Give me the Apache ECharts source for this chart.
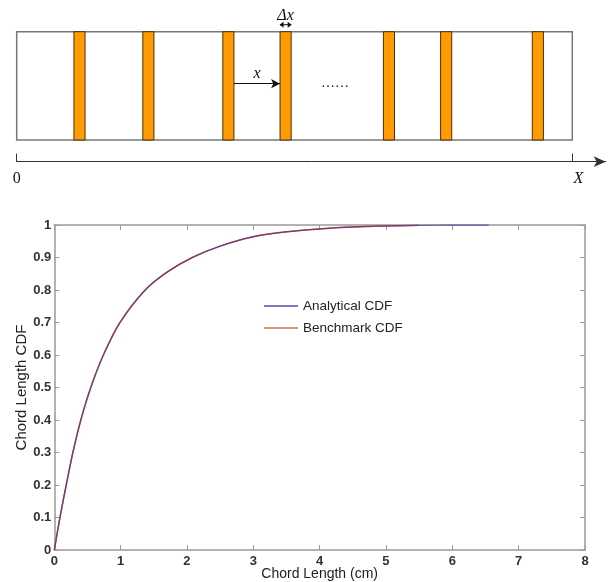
<!DOCTYPE html>
<html>
<head>
<meta charset="utf-8">
<script src="https://cdn.jsdelivr.net/npm/echarts@6/dist/echarts.min.js"></script>
<style>
  html, body { margin: 0; padding: 0; background: #fff; }
  #chart { width: 613px; height: 582px; }
</style>
</head>
<body>
<div id="chart"></div>
<script>
// Diagram: slab of length X (=100 units) with thin orange layers
const slabLength = 100
const layerStarts = [10.3, 22.7, 37.1, 47.4, 66.0, 76.3, 92.8]
const layerWidth = 2.0

// CDF curves: [chord length (cm), CDF]
const analyticalCdf = [
  [0, 0], [0.085, 0.1], [0.18, 0.2], [0.28, 0.3], [0.40, 0.4], [0.55, 0.5],
  [0.74, 0.6], [0.99, 0.7], [1.37, 0.8], [1.7, 0.855], [2.08, 0.9], [2.5, 0.935],
  [3, 0.964], [3.5, 0.979], [4, 0.988], [4.5, 0.994], [5, 0.997], [5.5, 0.999],
  [6, 1.0], [6.55, 1.0]
]
const benchmarkCdf = [
  [0, 0], [0.085, 0.1], [0.18, 0.2], [0.28, 0.3], [0.40, 0.4], [0.55, 0.5],
  [0.74, 0.6], [0.99, 0.7], [1.37, 0.8], [1.7, 0.855], [2.08, 0.9], [2.5, 0.935],
  [3, 0.964], [3.5, 0.979], [4, 0.988], [4.5, 0.994], [5, 0.997], [5.5, 0.999]
]

const sans = '"Liberation Sans", Arial, sans-serif'
const serif = '"Liberation Serif", "DejaVu Serif", serif'
const axisGray = '#9a9a9a'

const chart = echarts.init(document.getElementById('chart'))

// small filled triangle pointing left or right
const arrowHead = (x, y, dir, len, half) => ({
  type: 'polygon',
  shape: { points: [[x, y], [x - dir * len, y - half], [x - dir * len, y + half]] },
  style: { fill: '#111' }
})

const plotAxis = {
  axisLine: { onZero: false, lineStyle: { color: axisGray, width: 1.5 } },
  axisTick: { inside: true, length: 5, lineStyle: { color: axisGray } },
  splitLine: { show: false }
}

const lineIcon = 'path://M0,0 L34,0 L34,1.5 L0,1.5 Z'

const option = {
  animation: false,
  grid: [
    // 0: slab diagram
    { left: 16.7, top: 31.7, width: 555.6, height: 108.3, show: true, borderColor: '#777', borderWidth: 1.5, backgroundColor: '#fff', outerBoundsMode: 'none' },
    // 1: arrow axis under slab
    { left: 16.7, top: 160.7, width: 589, height: 1, outerBoundsMode: 'none' },
    // 2: CDF plot
    { left: 54.3, top: 225, width: 530.7, height: 325, outerBoundsMode: 'none' },
    // 3: strip above slab for the layer thickness mark
    { left: 16.7, top: 10, width: 555.6, height: 21, outerBoundsMode: 'none' }
  ],
  xAxis: [
    { gridIndex: 0, type: 'value', min: 0, max: slabLength, show: false },
    {
      gridIndex: 1, type: 'value', min: 0, max: slabLength * 589 / 555.6,
      position: 'bottom',
      splitLine: { show: false },
      axisLine: { lineStyle: { color: '#333', width: 1 }, symbol: ['none', 'arrow'], symbolSize: [8, 12] },
      axisTick: { inside: true, length: 8, lineStyle: { color: '#333' }, customValues: [0, slabLength] },
      axisLabel: {
        margin: 9,
        customValues: [0, slabLength],
        formatter: v => v === 0 ? '{n|0}' : '{i|X}',
        rich: {
          n: { fontFamily: serif, fontSize: 16, color: '#111' },
          i: { fontFamily: serif, fontStyle: 'italic', fontSize: 16, color: '#111', padding: [0, 0, 0, 12] }
        }
      }
    },
    {
      gridIndex: 2, type: 'value', min: 0, max: 8, interval: 1,
      name: 'Chord Length (cm)', nameLocation: 'middle', nameGap: 17, nameMoveOverlap: false,
      nameTextStyle: { fontFamily: sans, fontSize: 14, color: '#222' },
      ...plotAxis,
      axisLabel: { fontFamily: sans, fontSize: 13, color: '#333', margin: 5, fontWeight: 'bold' }
    },
    {
      gridIndex: 2, type: 'value', min: 0, max: 8, interval: 1, position: 'top',
      ...plotAxis,
      axisLabel: { show: false }
    },
    { gridIndex: 3, type: 'value', min: 0, max: slabLength, show: false }
  ],
  yAxis: [
    { gridIndex: 0, type: 'value', min: 0, max: 1, show: false },
    { gridIndex: 1, type: 'value', min: 0, max: 1, show: false },
    {
      gridIndex: 2, type: 'value', min: 0, max: 1, interval: 0.1,
      name: 'Chord Length CDF', nameLocation: 'middle', nameGap: 25, nameRotate: 90, nameMoveOverlap: false,
      nameTextStyle: { fontFamily: sans, fontSize: 15, color: '#222' },
      ...plotAxis,
      axisLabel: {
        fontFamily: sans, fontSize: 13, color: '#333', margin: 3, fontWeight: 'bold',
        formatter: v => +v.toFixed(1) + ''
      }
    },
    {
      gridIndex: 2, type: 'value', min: 0, max: 1, interval: 0.1, position: 'right',
      ...plotAxis,
      axisLabel: { show: false }
    },
    { gridIndex: 3, type: 'value', min: 0, max: 1, show: false }
  ],
  legend: {
    left: 259, top: 294, orient: 'vertical',
    itemWidth: 34, itemHeight: 14, itemGap: 8,
    data: [
      { name: 'Analytical CDF', icon: lineIcon },
      { name: 'Benchmark CDF', icon: lineIcon }
    ],
    textStyle: { fontFamily: sans, fontSize: 13.5, color: '#222' }
  },
  graphic: [
    { type: 'text', left: 321, top: 76, style: { text: '……', font: '14px ' + serif, fill: '#222' } }
  ],
  series: [
    {
      // orange layers
      type: 'custom',
      xAxisIndex: 0, yAxisIndex: 0,
      data: layerStarts.map(s => [s, s + layerWidth]),
      renderItem: (params, api) => {
        const p0 = api.coord([api.value(0), 1])
        const p1 = api.coord([api.value(1), 0])
        return {
          type: 'rect',
          shape: { x: p0[0], y: p0[1], width: p1[0] - p0[0], height: p1[1] - p0[1] },
          style: { fill: '#ff9a00', stroke: '#4a3010', lineWidth: 1 }
        }
      },
      markLine: {
        silent: true,
        animation: false,
        data: [[
          { coord: [layerStarts[2] + layerWidth, 0.52], symbol: 'none' },
          { coord: [layerStarts[3], 0.52], symbol: 'arrow', symbolSize: [7, 9] }
        ]],
        lineStyle: { color: '#111', width: 1, type: 'solid' },
        label: {
          show: true, position: 'middle', distance: 2, formatter: 'x',
          fontFamily: serif, fontStyle: 'italic', fontSize: 16, color: '#111'
        }
      }
    },
    {
      // layer thickness (Δx) double arrow
      type: 'custom',
      xAxisIndex: 4, yAxisIndex: 4,
      data: [[layerStarts[3], layerStarts[3] + layerWidth]],
      renderItem: (params, api) => {
        const a = api.coord([api.value(0), 0.3])
        const b = api.coord([api.value(1), 0.3])
        return {
          type: 'group',
          children: [
            { type: 'line', shape: { x1: a[0], y1: a[1], x2: b[0], y2: b[1] }, style: { stroke: '#111', lineWidth: 1 } },
            arrowHead(a[0] - 0.5, a[1], -1, 4, 3),
            arrowHead(b[0] + 0.5, b[1], 1, 4, 3),
            {
              type: 'text',
              style: {
                text: 'Δx', x: (a[0] + b[0]) / 2, y: a[1] - 1,
                align: 'center', verticalAlign: 'bottom',
                font: 'italic 16px ' + serif, fill: '#111'
              }
            }
          ]
        }
      }
    },
    {
      name: 'Benchmark CDF', type: 'line',
      xAxisIndex: 2, yAxisIndex: 2,
      data: benchmarkCdf, smooth: 0.3, symbol: 'none',
      lineStyle: { color: '#d0452c', width: 1.5 }, itemStyle: { color: '#c8724e' }
    },
    {
      name: 'Analytical CDF', type: 'line',
      xAxisIndex: 2, yAxisIndex: 2,
      data: analyticalCdf, smooth: 0.3, symbol: 'none',
      lineStyle: { color: '#4b3f9a', width: 1.3, opacity: 0.75 }, itemStyle: { color: '#5252b0' }
    }
  ]
}

chart.setOption(option)
</script>
</body>
</html>
